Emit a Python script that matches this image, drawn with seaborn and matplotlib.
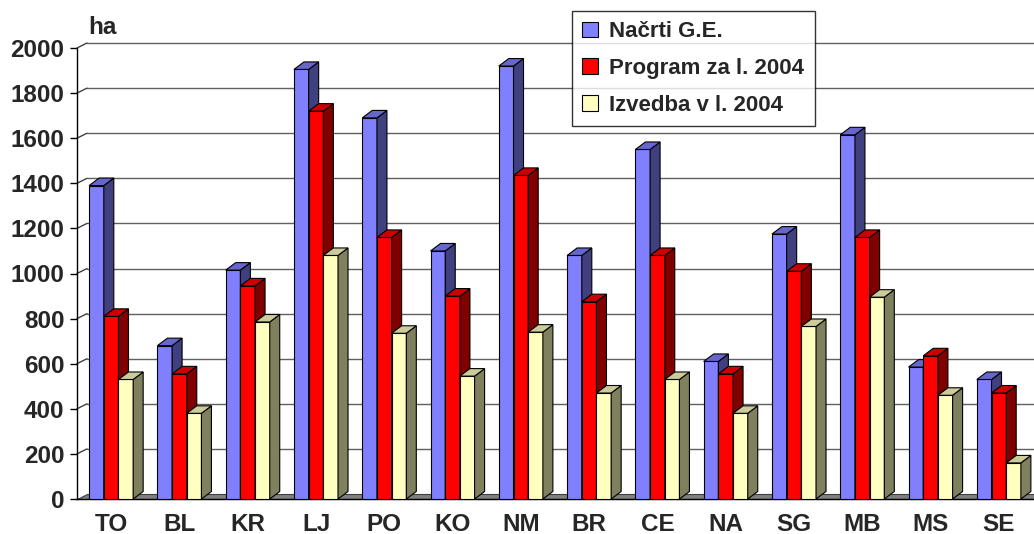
import numpy as np
import pandas as pd
import matplotlib
matplotlib.use("Agg")
import matplotlib.pyplot as plt
from matplotlib.patches import Polygon, Patch
import seaborn as sns

categories = ["TO", "BL", "KR", "LJ", "PO", "KO", "NM", "BR", "CE", "NA", "SG", "MB", "MS", "SE"]
nacrti = [1390, 680, 1015, 1905, 1690, 1100, 1920, 1080, 1550, 610, 1175, 1615, 585, 530]
program = [810, 555, 945, 1720, 1160, 900, 1435, 875, 1080, 555, 1010, 1160, 635, 470]
izvedba = [530, 380, 785, 1080, 735, 545, 740, 470, 530, 380, 765, 895, 460, 160]
series = ["Načrti G.E.", "Program za l. 2004", "Izvedba v l. 2004"]
yticks = list(range(0, 2001, 200))

front_cols = ["#8080FF", "#FF0000", "#FFFFC0"]
top_cols = ["#6666CC", "#CC0000", "#CCCC9A"]
side_cols = ["#40407F", "#800000", "#80805F"]

df = pd.DataFrame({
    "cat": categories * 3,
    "val": nacrti + program + izvedba,
    "series": [s for s in series for _ in categories],
})

sns.set_theme(style="white")
plt.rcParams["font.family"] = ["Liberation Sans", "DejaVu Sans"]
plt.rcParams["font.weight"] = "bold"

W, H = 1034, 534
fig = plt.figure(figsize=(W / 100, H / 100), dpi=100)
L, R, B, T = 77, 1033, 499, 48
ax = fig.add_axes([L / W, (H - B) / H, (R - L) / W, (B - T) / H])

sns.barplot(data=df, x="cat", y="val", hue="series", palette=front_cols,
            width=0.645, edgecolor="black", linewidth=0.8, ax=ax, legend=False,
            saturation=1)
ax.set_xlim(-0.5, len(categories) - 0.5)
ax.set_ylim(0, 2000)

xpp = (len(categories)) / (R - L)      # data units per pixel (x)
ypp = 2000 / (B - T)                   # data units per pixel (y)
bdx, bdy = 10 * xpp, 7.5 * ypp          # bar depth
wdx, wdy = 10 * xpp, 5 * ypp            # wall depth

nb = len(categories)
for i, p in enumerate(ax.patches[:3 * nb]):
    k = i // nb
    z = 3 + k * 0.1
    p.set_zorder(z)
    x0 = p.get_x(); x1 = x0 + p.get_width(); y1 = p.get_height()
    side = Polygon([(x1, 0), (x1 + bdx, bdy), (x1 + bdx, y1 + bdy), (x1, y1)],
                   closed=True, facecolor=side_cols[k], edgecolor="black", lw=0.8,
                   zorder=z + 0.01, clip_on=False)
    top = Polygon([(x0, y1), (x0 + bdx, y1 + bdy), (x1 + bdx, y1 + bdy), (x1, y1)],
                  closed=True, facecolor=top_cols[k], edgecolor="black", lw=0.8,
                  zorder=z + 0.01, clip_on=False)
    ax.add_patch(side)
    ax.add_patch(top)

xmin, xmax = ax.get_xlim()
for v in yticks[1:]:
    ax.plot([xmin + wdx, xmax + 2 * wdx], [v + wdy, v + wdy], color="#606060",
            lw=1.0, zorder=1, clip_on=False)
    ax.plot([xmin, xmin + wdx], [v, v + wdy], color="#404040", lw=1.0,
            zorder=1, clip_on=False)
floor = Polygon([(xmin, 0), (xmax + 2 * wdx, 0), (xmax + 2 * wdx, wdy), (xmin + wdx, wdy)],
                closed=True, facecolor="#808080", edgecolor="#404040", lw=0.8,
                zorder=2, clip_on=False)
ax.add_patch(floor)

ax.set_xlabel("")
ax.set_ylabel("")
ax.set_yticks(yticks)
ax.set_yticklabels([str(v) for v in yticks], fontsize=17.5, fontweight="bold")
ax.set_xticks(range(nb))
ax.set_xticklabels(categories, fontsize=17.5, fontweight="bold")
ax.set_xticks(np.arange(-0.5, nb, 1.0), minor=True)
ax.tick_params(axis="x", which="major", length=0, pad=10)
ax.tick_params(axis="x", which="minor", length=5, width=1, color="black", direction="out")
ax.tick_params(axis="y", length=5, width=1, color="black", direction="out", pad=4, left=True)
for s in ["top", "right"]:
    ax.spines[s].set_visible(False)
for s in ["left", "bottom"]:
    ax.spines[s].set_color("black")
    ax.spines[s].set_linewidth(1.0)
    ax.spines[s].set_zorder(2.5)
ax.patch.set_alpha(0)

fig.text(88 / W, (H - 28) / H, "ha", fontsize=17.5, fontweight="bold", ha="left", va="center")

handles = [Patch(facecolor=c, edgecolor="black", lw=0.8) for c in front_cols]
leg = fig.legend(handles, series, loc="upper left",
                 bbox_to_anchor=(572 / W, (H - 11) / H), frameon=True, fancybox=False,
                 prop={"size": 16, "weight": "bold"}, handlelength=0.7, handleheight=0.7,
                 handletextpad=0.5, labelspacing=0.7, borderpad=0.47, borderaxespad=0)
leg.get_frame().set_edgecolor("black")
leg.get_frame().set_linewidth(1.0)

fig.savefig("out.png", dpi=100)
